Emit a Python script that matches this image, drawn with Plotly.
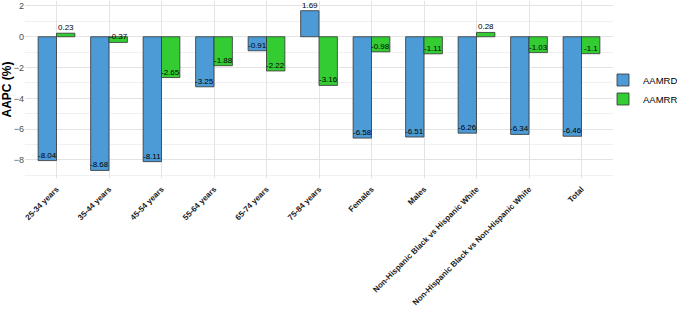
import plotly.graph_objects as go

categories = ["25-34 years", "35-44 years", "45-54 years", "55-64 years", "65-74 years",
              "75-84 years", "Females", "Males", "Non-Hispanic Black vs Hispanic White",
              "Non-Hispanic Black vs Non-Hispanic White", "Total"]
aamrd = [-8.04, -8.68, -8.11, -3.25, -0.91, 1.69, -6.58, -6.51, -6.26, -6.34, -6.46]
aamrr = [0.23, -0.37, -2.65, -1.88, -2.22, -3.16, -0.98, -1.11, 0.28, -1.03, -1.1]
series_names = ["AAMRD", "AAMRR"]
colors = ["#4C9BD6", "#33CC33"]
y_ticks = [-8, -6, -4, -2, 0, 2]

x = list(range(len(categories)))
bw = 0.35

fig = go.Figure()
for name, vals, col, off in zip(series_names, [aamrd, aamrr], colors, [-bw / 2, bw / 2]):
    fig.add_trace(go.Bar(x=[i + off for i in x], y=vals, width=bw, name=name,
                         marker=dict(color=col, line=dict(color="#333333", width=0.8))))
    for i, v in zip(x, vals):
        fig.add_annotation(x=i + off, y=v, text=f"{v:g}", showarrow=False,
                           yanchor="bottom", xanchor="center", yshift=-1,
                           font=dict(size=8, color="black", family="Liberation Sans"))

fig.update_layout(
    width=677, height=314,
    margin=dict(l=25, r=64, t=1, b=136, autoexpand=False),
    plot_bgcolor="white", paper_bgcolor="white",
    barmode="overlay",
    font=dict(family="Liberation Sans, Arial", color="#4D4D4D"),
    legend=dict(x=0.983, y=0.5, xanchor="left", yanchor="middle", xref="paper",
                font=dict(size=9.5, color="black"), tracegroupgap=0, itemwidth=30,
                bgcolor="rgba(0,0,0,0)"),
    showlegend=True,
)
fig.update_xaxes(range=[-0.6, len(categories) - 0.4], tickvals=x, ticktext=categories,
                 tickangle=-45, showgrid=True, gridcolor="#E3E3E3", gridwidth=1,
                 zeroline=False, automargin=False, ticks="", ticklabelstandoff=4,
                 tickfont=dict(size=8, color="#1A1A1A", family="Liberation Sans, Arial",
                               weight="bold"))
fig.update_yaxes(range=[-9.17, 2.32], tickvals=y_ticks, showgrid=True, gridcolor="#E3E3E3", gridwidth=1,
                 zeroline=False, automargin=False, ticks="", ticklabeloverflow="allow",
                 minor=dict(dtick=1, showgrid=True, gridcolor="#F0F0F0", gridwidth=0.6),
                 tickfont=dict(size=9, color="#4D4D4D"),
                 title=dict(text="<b>AAPC (%)</b>", standoff=6, font=dict(size=12, color="black")))
fig.write_html("out.html")
